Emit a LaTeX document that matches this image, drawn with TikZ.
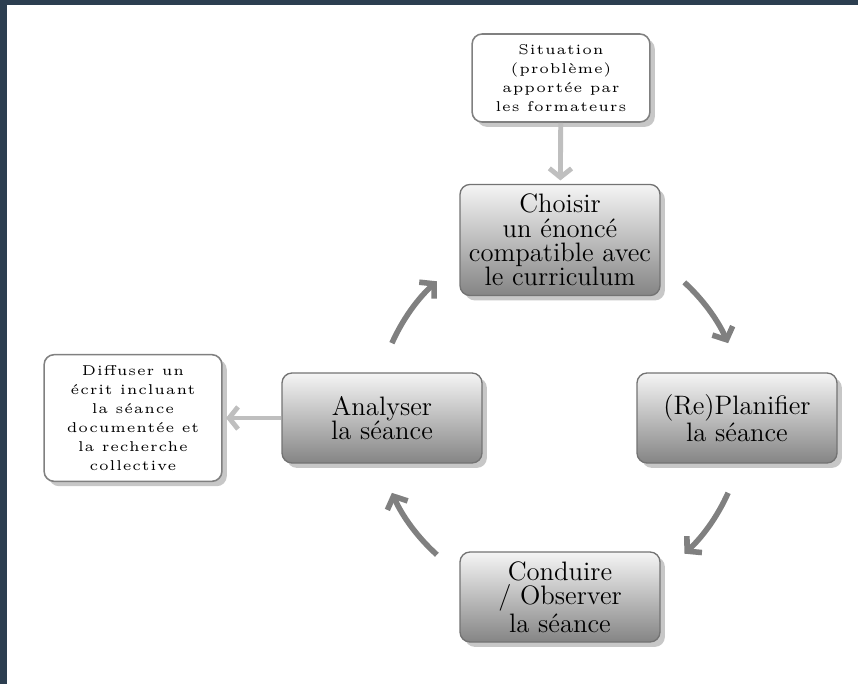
\documentclass[tikz,border=0pt]{standalone}
\usepackage{fontspec}
\usetikzlibrary{arrows.meta,shadows}
\newfontfamily\petite{lmroman5-regular.otf}[LetterSpace=6]
\definecolor{cadre}{HTML}{2C3E50}

\begin{document}
\begin{tikzpicture}[x=0.45pt,y=0.45pt,
  etape/.style={draw=black!55, line width=0.6pt, rounded corners=4.5pt,
    top color=black!4, bottom color=black!48,
    minimum width=90pt, minimum height=40.5pt, align=center,
    font=\fontsize{12}{11}\selectfont,
    drop shadow={shadow xshift=2.2pt, shadow yshift=-2.2pt, fill=black!22, opacity=1}},
  encadre/.style={draw=black!50, line width=0.7pt, rounded corners=4.5pt, fill=white,
    minimum width=80pt, align=center, font=\petite\fontsize{6.4}{8.5}\selectfont,
    drop shadow={shadow xshift=2.2pt, shadow yshift=-2.2pt, fill=black!22, opacity=1}},
  boucle/.style={draw=black!50, line width=2.5pt, -{Straight Barb[length=4.5pt,width=10pt]}},
  apport/.style={draw=black!25, line width=2.2pt, -{Straight Barb[length=4pt,width=10pt]}, shorten >=1.5pt}]
\useasboundingbox (0,0) rectangle (858,684);
\fill[cadre] (0,0) rectangle (7,684);
\fill[cadre] (0,679) rectangle (858,684);

\node[encadre, minimum height=39.6pt] (situation) at (561,606) {Situation\\(problème)\\apportée par\\les formateurs};
\node[etape, minimum height=50pt] (choisir) at (560,444) {Choisir\\un énoncé\\compatible avec\\le curriculum};
\node[etape] (planifier) at (737,266) {(Re)Planifier\\la séance};
\node[etape] (conduire) at (560,87) {Conduire\\/ Observer\\la séance};
\node[etape] (analyser) at (382,266) {Analyser\\la séance};
\node[encadre, minimum height=57pt] (diffuser) at (133,266) {Diffuser un\\écrit incluant\\la séance\\documentée et\\la recherche\\collective};
\coordinate (centre) at (560,266);

\draw[apport] (situation) -- (choisir);
\draw[apport] (analyser) -- (diffuser);

% le cycle
\draw[boucle] ([shift={(47.5:184)}]centre) arc[start angle=47.5, end angle=24, radius=184];
\draw[boucle] ([shift={(-24:184)}]centre) arc[start angle=-24, end angle=-47.5, radius=184];
\draw[boucle] ([shift={(-132:184)}]centre) arc[start angle=-132, end angle=-156, radius=184];
\draw[boucle] ([shift={(156:184)}]centre) arc[start angle=156, end angle=132, radius=184];
\end{tikzpicture}
\end{document}
